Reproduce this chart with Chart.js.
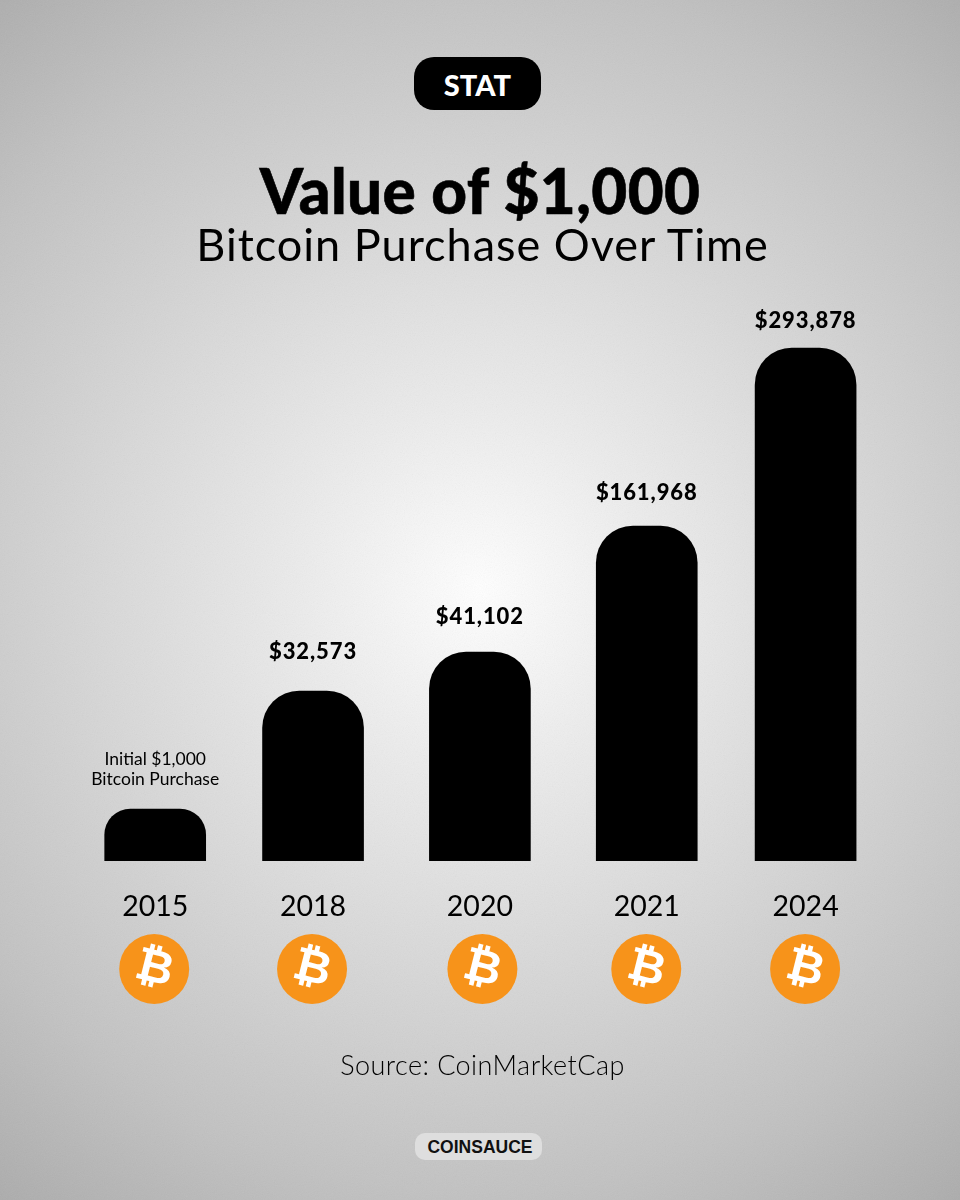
<!DOCTYPE html>
<html>
<head>
<meta charset="utf-8">
<title>Value of $1,000</title>
<script src="https://cdn.jsdelivr.net/npm/chart.js@4"></script>
<style>
  html, body { margin: 0; padding: 0; }
  body {
    width: 960px; height: 1200px; position: relative; overflow: hidden;
    background: radial-gradient(circle 800px at 480px 590px, #ffffff 0%, #ececec 22%, #d6d6d6 50%, #c2c2c2 75%, #a9a9a9 100%);
    font-family: Lato, sans-serif; color: #000;
  }
  .grain {
    position: absolute; inset: 0; opacity: .1;
    background-image: url("data:image/svg+xml;utf8,<svg xmlns='http://www.w3.org/2000/svg' width='300' height='300'><filter id='n'><feTurbulence type='fractalNoise' baseFrequency='0.9' numOctaves='2'/><feColorMatrix type='saturate' values='0'/></filter><rect width='300' height='300' filter='url(%23n)'/></svg>");
  }
  canvas { position: absolute; left: 0; top: 0; }
  .txt { position: absolute; left: 0; width: 960px; text-align: center; white-space: nowrap; }
  .stat {
    position: absolute; left: 414px; top: 57px; width: 127px; height: 53px; border-radius: 20px;
    background: #000; color: #fff; font-weight: 900; font-size: 29px; line-height: 55px; text-align: center;
  }
  .title { top: 152px; font-size: 62px; font-weight: 900; line-height: 76px; letter-spacing: .4px; -webkit-text-stroke: .6px #000; }
  .subtitle { top: 216px; left: 2.5px; font-size: 45px; font-weight: 400; line-height: 56px; letter-spacing: 1px; }
  .source { top: 1048px; left: 2.5px; font-size: 27px; font-weight: 300; line-height: 34px; letter-spacing: .45px; }
  .brand {
    position: absolute; left: 415px; top: 1133px; width: 127px; height: 27px; border-radius: 10px;
    background: #dedede; font-family: "Liberation Sans", sans-serif; font-weight: 700; font-size: 17.5px;
    line-height: 28px; text-align: center; color: #111; text-indent: 3px;
  }
</style>
</head>
<body>
<div class="grain"></div>
<canvas id="chart" width="960" height="1200"></canvas>
<div class="stat">STAT</div>
<div class="txt title">Value of $1,000</div>
<div class="txt subtitle">Bitcoin Purchase Over Time</div>
<div class="txt source">Source: CoinMarketCap</div>
<div class="brand">COINSAUCE</div>

<script>
const years = ['2015', '2018', '2020', '2021', '2024'];
// bars in the picture are not to scale with the dollars, so heights are read off separately
const barHeights = [52, 170, 209, 335, 513];
const valueLabels = [['Initial $1,000', 'Bitcoin Purchase'], '$32,573', '$41,102', '$161,968', '$293,878'];

// the original spacing is a bit uneven
const SLOT_NUDGE = [0, -4.75, -0.5, 3.75, 0];
const LABEL_GAP = [0, 39, 35, 33, 27];
const COIN_NUDGE = [-1, -1, 2.5, -0.5, -0.5];

class SlottedScale extends Chart.CategoryScale {
  static id = 'slotted';
  getPixelForValue(value, index) {
    const px = super.getPixelForValue(value, index);
    const i = typeof value === 'number' ? Math.round(value) : this.parse(value);
    return px + (SLOT_NUDGE[i] || 0);
  }
}
Chart.register(SlottedScale);

const barLabels = {
  id: 'barLabels',
  afterDatasetsDraw(chart) {
    const { ctx } = chart;
    chart.getDatasetMeta(0).data.forEach((bar, i) => {
      const label = valueLabels[i];
      ctx.save();
      ctx.fillStyle = '#000';
      ctx.textAlign = 'center';
      ctx.textBaseline = 'middle';
      if (Array.isArray(label)) {
        ctx.font = '400 17.5px Lato, sans-serif';
        ctx.fillText(label[0], bar.x, bar.y - 50);
        ctx.fillText(label[1], bar.x, bar.y - 30);
      } else {
        ctx.font = '900 22px Lato, sans-serif';
        ctx.letterSpacing = '0.9px';
        ctx.fillText(label, bar.x, bar.y - LABEL_GAP[i]);
      }
      ctx.restore();
    });
  },
};

const coins = {
  id: 'coins',
  afterDraw(chart) {
    const { ctx, scales } = chart;
    years.forEach((year, i) => {
      const x = scales.x.getPixelForValue(i) + COIN_NUDGE[i];
      const y = 969;
      ctx.save();
      ctx.fillStyle = '#f7931a';
      ctx.beginPath();
      ctx.arc(x, y, 35, 0, Math.PI * 2);
      ctx.fill();
      ctx.translate(x, y);
      ctx.rotate(14 * Math.PI / 180);
      ctx.fillStyle = '#fff';
      ctx.font = '700 46px "DejaVu Sans", sans-serif';
      ctx.textAlign = 'center';
      ctx.textBaseline = 'middle';
      ctx.fillText('\u20BF', 0, 1);
      ctx.restore();
    });
  },
};

new Chart(document.getElementById('chart'), {
  type: 'bar',
  data: {
    labels: years,
    datasets: [{
      data: barHeights,
      backgroundColor: '#000',
      barThickness: 101,
      borderRadius: { topLeft: 37, topRight: 37, bottomLeft: 0, bottomRight: 0 },
      borderSkipped: 'bottom',
    }],
  },
  options: {
    responsive: false,
    animation: false,
    devicePixelRatio: 1,
    layout: { padding: { left: 73.9, right: 73.1, top: 261, bottom: 0 } },
    plugins: { legend: { display: false }, tooltip: { enabled: false } },
    scales: {
      x: {
        type: 'slotted',
        offset: true,
        grid: { display: false },
        border: { display: false },
        afterFit: s => { s.height = 339; },
        ticks: {
          color: '#000',
          padding: 21,
          maxRotation: 0,
          font: { family: 'Lato, sans-serif', size: 28.5, weight: '400' },
        },
      },
      y: { display: false, min: 0, max: 600 },
    },
  },
  plugins: [barLabels, coins],
});
</script>
</body>
</html>
